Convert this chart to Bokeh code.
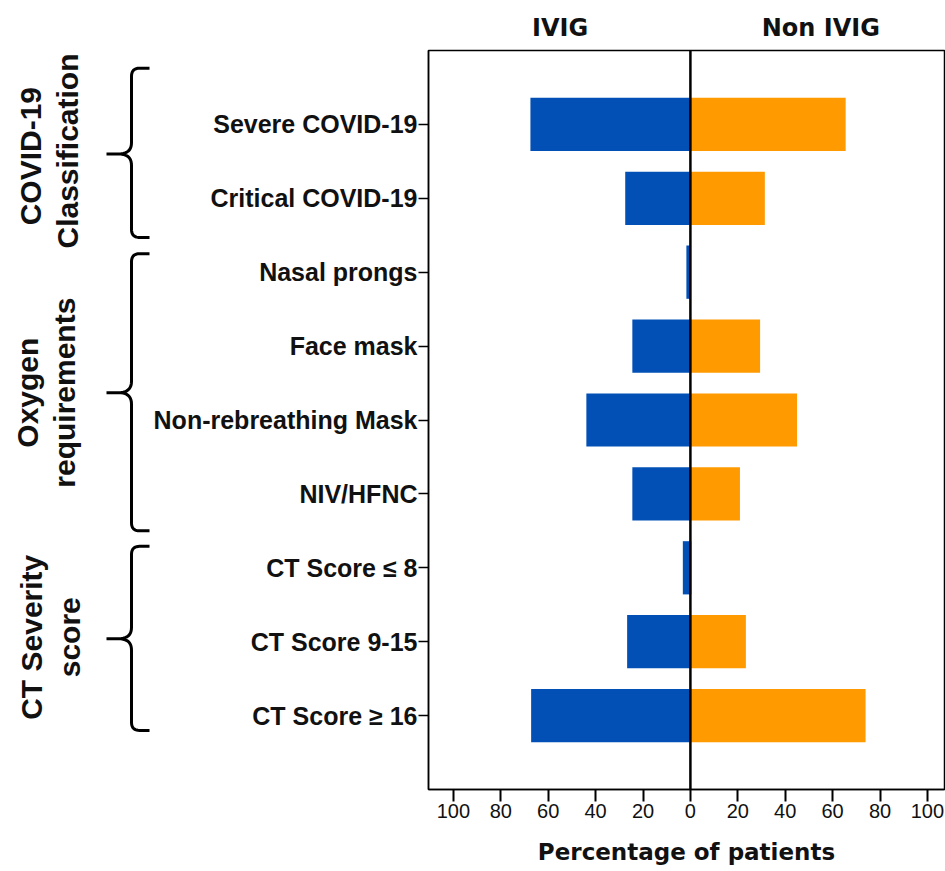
import math
from bokeh.plotting import figure
from bokeh.models import Range1d, FixedTicker, Span, LinearAxis
from bokeh.layouts import row
from bokeh.core.properties import value
from bokeh.embed import file_html
from bokeh.resources import INLINE

# ---------------- data ----------------
categories = ["Severe COVID-19", "Critical COVID-19", "Nasal prongs", "Face mask",
              "Non-rebreathing Mask", "NIV/HFNC", "CT Score \u2264 8",
              "CT Score 9-15", "CT Score \u2265 16"]
ivig = [67.5, 27.5, 1.7, 24.5, 43.9, 24.5, 3.2, 26.7, 67.2]
non_ivig = [65.5, 31.4, 0.0, 29.4, 45.0, 20.9, 0.5, 23.4, 73.9]

series_names = ["IVIG", "Non IVIG"]
series_colors = ["#0250B6", "#FF9A00"]

group_lines = [["COVID-19", "Classification"], ["Oxygen", "requirements"], ["CT Severity", "score"]]
brace_top = [9.76, 7.25, 3.29]
brace_bottom = [7.47, 3.50, 0.80]
brace_tip = [8.60, 5.37, 2.04]

x_ticks = [-100, -80, -60, -40, -20, 0, 20, 40, 60, 80, 100]
x_tick_labels = ["100", "80", "60", "40", "20", "0", "20", "40", "60", "80", "100"]

# ---------------- layout constants ----------------
n = len(categories)
ys = [n - i for i in range(n)]
y_range = Range1d(0, n + 1)

W, H = 945, 871
LEFT_W = 150
B_LEFT, B_RIGHT, B_TOP, B_BOTTOM = 428 - LEFT_W, 1, 50, 82
X0, X1 = -110.5, 107.2

# ---------------- main figure ----------------
p = figure(width=W - LEFT_W, height=H, x_range=Range1d(X0, X1), y_range=y_range,
           output_backend="svg", toolbar_location=None,
           min_border_left=B_LEFT, min_border_right=B_RIGHT,
           min_border_top=B_TOP, min_border_bottom=B_BOTTOM)
p.xgrid.visible = False
p.ygrid.visible = False
p.outline_line_color = "black"
p.outline_line_width = 1.5
p.background_fill_color = "white"
p.border_fill_color = "white"

p.hbar(y=ys, left=[-v for v in ivig], right=0, height=0.72,
       fill_color=series_colors[0], line_color=None)
p.hbar(y=ys, left=0, right=non_ivig, height=0.72,
       fill_color=series_colors[1], line_color=None)

p.add_layout(Span(location=0, dimension="height", line_color="black", line_width=2.5))

# x axis
p.xaxis.ticker = FixedTicker(ticks=x_ticks)
p.xaxis.major_label_overrides = {t: l for t, l in zip(x_ticks, x_tick_labels)}
p.xaxis.major_label_text_font = "Liberation Sans"
p.xaxis.major_label_text_font_size = "20px"
p.xaxis.major_label_text_color = "#111111"
p.xaxis.major_label_standoff = 2
p.xaxis.major_tick_out = 12
p.xaxis.major_tick_in = 0
p.xaxis.major_tick_line_width = 2
p.xaxis.minor_tick_line_color = None
p.xaxis.axis_line_width = 1.5
p.xaxis.axis_label = "Percentage of patients"
p.xaxis.axis_label_text_font = "DejaVu Sans"
p.xaxis.axis_label_text_font_style = "bold"
p.xaxis.axis_label_text_font_size = "23px"
p.xaxis.axis_label_text_color = "#111111"
p.xaxis.axis_label_standoff = 18

# y axis
p.yaxis.ticker = FixedTicker(ticks=ys)
p.yaxis.major_label_overrides = {y: c for y, c in zip(ys, categories)}
p.yaxis.major_label_text_font = "Liberation Sans"
p.yaxis.major_label_text_font_style = "bold"
p.yaxis.major_label_text_font_size = "25px"
p.yaxis.major_label_text_color = "#111111"
p.yaxis.major_label_standoff = 1
p.yaxis.major_tick_out = 10
p.yaxis.major_tick_in = 0
p.yaxis.major_tick_line_width = 1.5
p.yaxis.minor_tick_line_color = None
p.yaxis.axis_line_width = 1.5

# series headers above the frame (an axis on top with two labelled positions)
header_pos = [-55, 55]
top_axis = LinearAxis(ticker=FixedTicker(ticks=header_pos),
                      major_label_overrides={h: s for h, s in zip(header_pos, series_names)},
                      axis_line_color=None, major_tick_line_color=None,
                      minor_tick_line_color=None, major_tick_out=0, major_tick_in=0,
                      major_label_standoff=9, major_label_text_font="DejaVu Sans",
                      major_label_text_font_style="bold", major_label_text_font_size="24px",
                      major_label_text_color="#111111")
p.add_layout(top_axis, "above")

# ---------------- left figure: braces + group titles ----------------
q = figure(width=LEFT_W, height=H, x_range=Range1d(0, LEFT_W), y_range=y_range,
           output_backend="svg", toolbar_location=None,
           x_axis_type=None, y_axis_type=None,
           min_border_left=0, min_border_right=0, min_border_top=B_TOP, min_border_bottom=B_BOTTOM)
q.xgrid.visible = False
q.ygrid.visible = False
q.outline_line_color = None
q.background_fill_color = "white"
q.border_fill_color = "white"


def quad(p0, p1, p2, k=10):
    pts = []
    for i in range(k + 1):
        t = i / k
        a, b, c = (1 - t) ** 2, 2 * (1 - t) * t, t ** 2
        pts.append((a * p0[0] + b * p1[0] + c * p2[0], a * p0[1] + b * p1[1] + c * p2[1]))
    return pts


def brace(top, bottom, tip, x_end=149, xv=131, x_tip=106, rx=8, ry=0.11):
    pts = [(x_end, top)]
    pts += quad((xv + rx, top), (xv, top), (xv, top - ry))
    pts += quad((xv, tip + ry * 1.4), (xv, tip), (xv - 13, tip))
    pts.append((x_tip, tip))
    pts += quad((xv - 13, tip), (xv, tip), (xv, tip - ry * 1.4))
    pts += quad((xv, bottom + ry), (xv, bottom), (xv + rx, bottom))
    pts.append((x_end, bottom))
    return [pt[0] for pt in pts], [pt[1] for pt in pts]


bx, by = [], []
for t, b, m in zip(brace_top, brace_bottom, brace_tip):
    xs_, ys_ = brace(t, b, m)
    bx.append(xs_)
    by.append(ys_)
q.multi_line(xs=bx, ys=by, line_color="black", line_width=3)

title_x = [[30, 67], [27, 64], [31, 69]]
title_y = [[8.57, 8.64], [5.37, 5.37], [2.06, 2.06]]
tx, ty, tt = [], [], []
for lines, xs_, ys_ in zip(group_lines, title_x, title_y):
    for l, xx, yy in zip(lines, xs_, ys_):
        tx.append(xx)
        ty.append(yy)
        tt.append(l)
q.text(x=tx, y=ty, text=tt, angle=math.pi / 2, text_align="center", text_baseline="middle",
       text_font=value("Liberation Sans"), text_font_style="bold", text_font_size="30px",
       text_color="#111111")

layout = row(q, p)
open("out.html", "w").write(file_html(layout, INLINE))
